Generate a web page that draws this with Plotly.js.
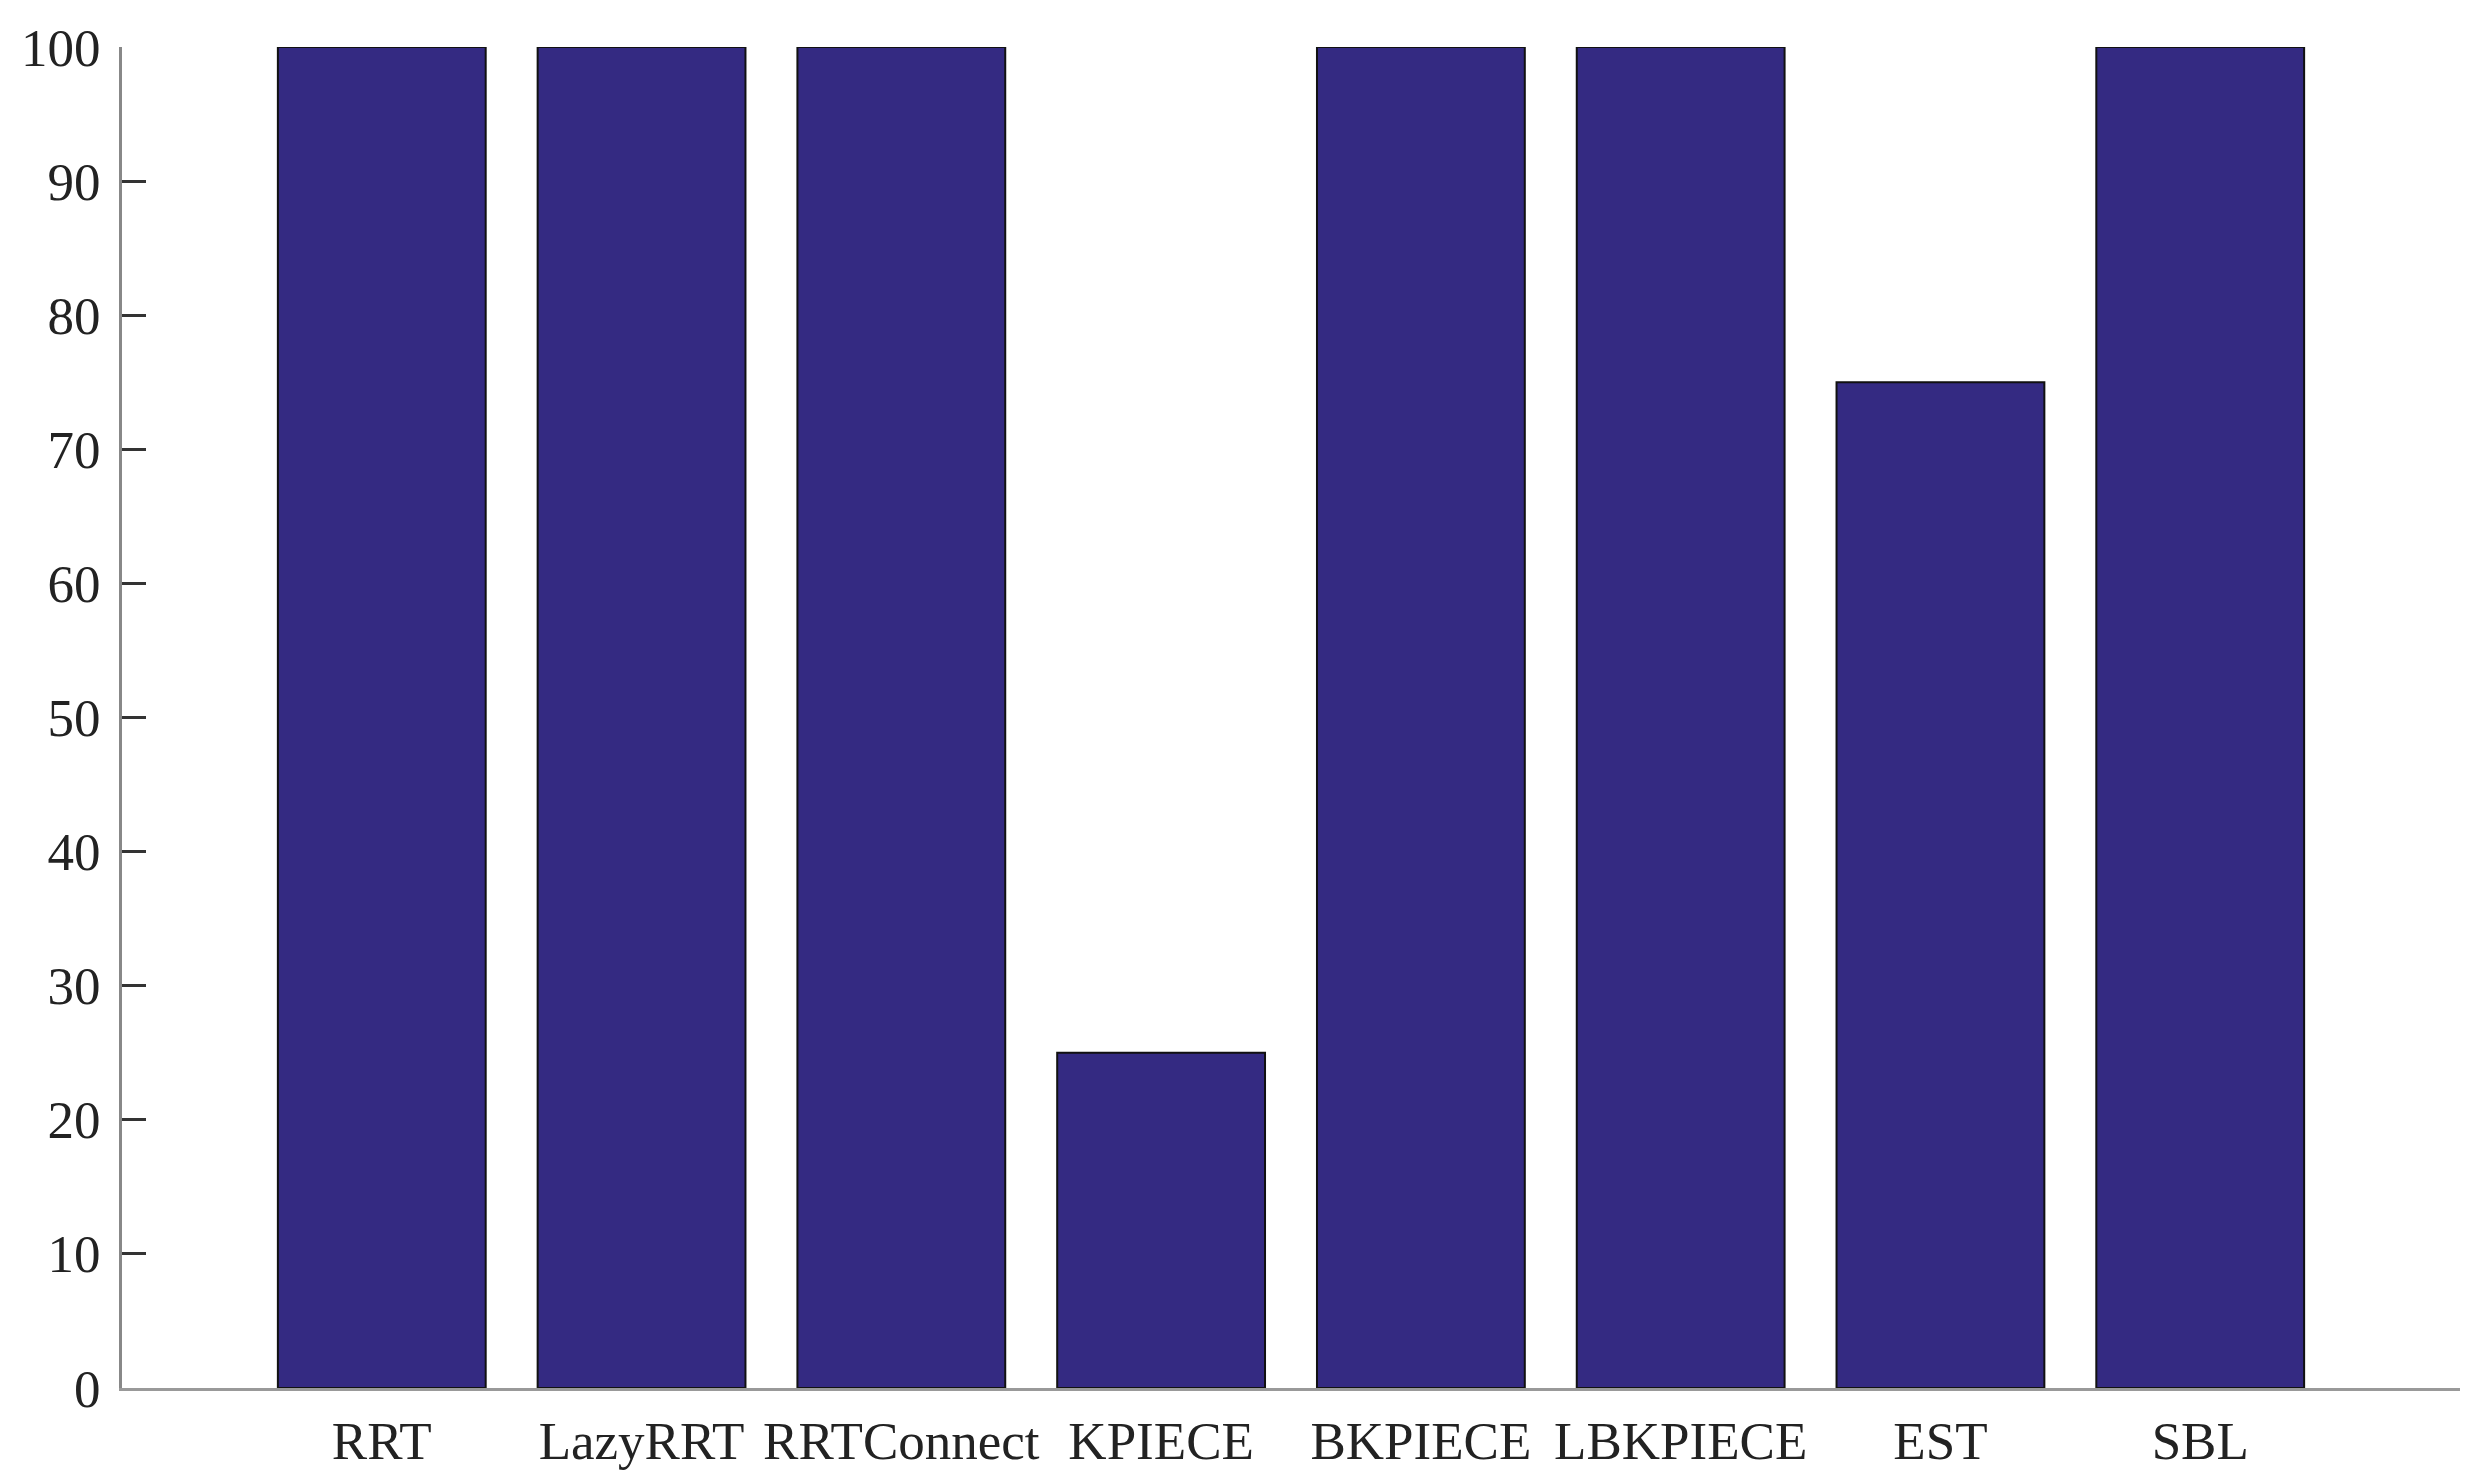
<!DOCTYPE html>
<html>
<head>
<meta charset="utf-8">
<script src="https://cdn.plot.ly/plotly-3.0.1.min.js"></script>
<style>
  html, body { margin: 0; padding: 0; background: #fff; }
  #chart { width: 2481px; height: 1482px; }
</style>
</head>
<body>
<div id="chart"></div>
<script>
// planners and success rate (%)
var planners = ["RRT", "LazyRRT", "RRTConnect", "KPIECE", "BKPIECE", "LBKPIECE", "EST", "SBL"];
var successRate = [100, 100, 100, 25, 100, 100, 75, 100];
var yTicks = [0, 10, 20, 30, 40, 50, 60, 70, 80, 90, 100];

var data = [{
  x: planners,
  y: successRate,
  type: "bar",
  width: 0.8,
  marker: { color: "#342a82", line: { color: "#111", width: 2 } },
  hoverinfo: "x+y"
}];

var layout = {
  width: 2481,
  height: 1482,
  margin: { l: 122, r: 21, t: 47, b: 94 },
  paper_bgcolor: "#fff",
  plot_bgcolor: "#fff",
  font: { family: "Liberation Serif, Times New Roman, serif", size: 53, color: "#222" },
  showlegend: false,
  bargap: 0.2,
  xaxis: {
    type: "category",
    range: [-1, 8],
    showline: true,
    linecolor: "#999",
    linewidth: 3,
    ticks: "",
    showgrid: false,
    zeroline: false,
    ticklabelstandoff: 4
  },
  yaxis: {
    range: [0, 100],
    tickvals: yTicks,
    showline: true,
    linecolor: "#888",
    linewidth: 3,
    ticks: "inside",
    ticklen: 24,
    tickwidth: 3,
    tickcolor: "#333",
    showgrid: false,
    zeroline: false,
    ticklabelstandoff: 8
  }
};

Plotly.newPlot("chart", data, layout, { displayModeBar: false });
</script>
</body>
</html>
